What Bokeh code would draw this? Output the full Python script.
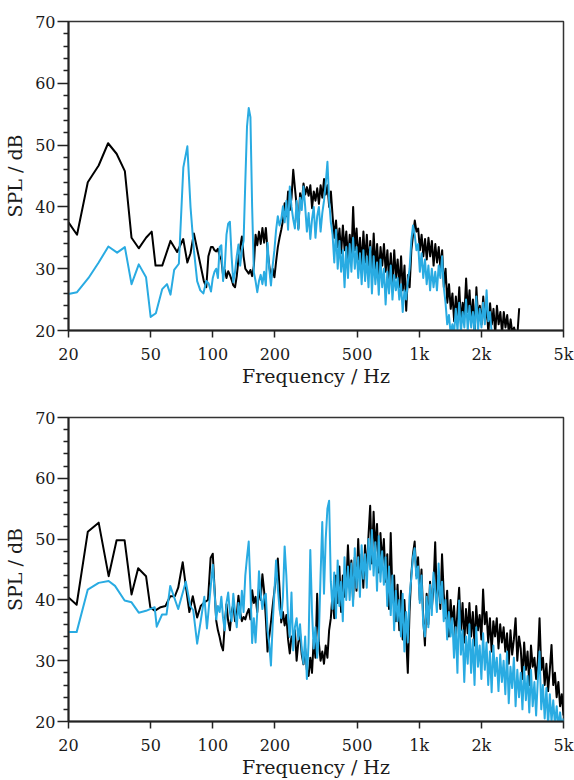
import numpy as np
from bokeh.plotting import figure
from bokeh.layouts import column
from bokeh.models import FixedTicker
from bokeh.embed import file_html
from bokeh.resources import INLINE

# ---------------- axes ----------------
freq_ticks = [20, 50, 100, 200, 500, 1000, 2000, 5000]
freq_tick_labels = ["20", "50", "100", "200", "500", "1k", "2k", "5k"]
spl_ticks = [20, 30, 40, 50, 60, 70]
spl_minor_ticks = [22, 24, 26, 28, 32, 34, 36, 38, 42, 44, 46, 48, 52, 54, 56, 58, 62, 64, 66, 68]

# ---------------- upper panel ----------------
a_black_low_f = [20, 22, 24.8, 28, 31.1, 34.2, 37.5, 40.4, 43.8, 47.5, 50.6, 52.8, 56.9,
                 62.4, 67.2, 71.9, 75.3, 78, 81, 90.5, 93, 95.2, 98]
a_black_low_db = [37.5, 35.5, 44.0, 46.7, 50.3, 48.6, 45.8, 35.0, 33.3, 35.0, 36.0, 30.5, 30.5,
                  34.5, 32.7, 34.8, 31.0, 32.5, 35.7, 28.0, 27.0, 32.0, 33.5]
a_blue_low_f = [20, 22, 25, 28, 31.2, 34.4, 37.5, 40.4, 43.8, 47.5, 50, 53, 56.9, 60, 62.4,
                65, 68.5, 72, 75.3, 78, 81, 84, 87, 90, 93, 95.5, 98]
a_blue_low_db = [25.9, 26.2, 28.5, 31.0, 33.6, 32.6, 33.5, 27.5, 30.7, 28.6, 22.2, 22.8, 26.7,
                 27.5, 25.8, 29.8, 30.8, 46.4, 49.8, 40.0, 33.0, 28.0, 26.5, 26.0, 28.0, 27.6, 26.3]
a_black_hi_range = (100, 3050)
a_black_hi_db = [
    33.5, 33.0, 32.8, 33.2, 32.0, 31.5, 29.0, 29.8, 28.5, 29.6,
    29.0, 28.2, 27.3, 27.0, 28.8, 31.5, 33.5, 35.2, 32.0, 30.0,
    29.6, 29.2, 29.8, 28.8, 30.5, 35.5, 33.8, 36.0, 34.0, 36.6,
    34.2, 36.6, 33.0, 30.5, 28.4, 30.0, 28.6, 31.2, 33.5, 35.0,
    36.3, 37.8, 40.6, 38.5, 42.5, 39.5, 41.5, 46.0, 43.0, 40.2,
    36.5, 42.2, 40.5, 43.8, 42.0, 43.2, 41.8, 43.5, 39.8, 42.5,
    41.0, 43.0, 40.5, 43.5, 41.5, 44.5, 42.0, 43.5, 40.0, 42.5,
    38.5, 35.0, 37.8, 33.5, 36.5, 32.5, 37.0, 33.0, 36.0, 31.5,
    35.5, 32.0, 40.0, 33.0, 36.5, 31.5, 35.0, 30.5, 36.0, 31.0,
    35.5, 30.5, 34.5, 29.5, 35.7, 30.0, 34.0, 29.0, 33.5, 30.5,
    34.0, 29.5, 33.0, 28.0, 32.5, 27.5, 33.0, 28.5, 31.5, 27.0,
    32.0, 26.5, 30.5, 23.2, 29.0, 27.0, 33.0, 35.5, 37.8, 36.0,
    36.5, 33.0, 35.5, 32.0, 34.8, 31.5, 35.0, 32.0, 34.5, 30.5,
    34.0, 31.0, 33.5, 30.0, 33.0, 27.0, 30.0, 24.5, 27.5, 23.5,
    26.0, 21.5, 25.5, 22.0, 27.0, 21.0, 24.5, 22.5, 28.4, 23.0,
    26.5, 21.5, 25.0, 19.5, 27.0, 22.0, 24.0, 21.0, 25.5, 21.5,
    24.0, 19.5, 24.4, 21.0, 23.5, 19.5, 24.0, 21.0, 23.0, 19.5,
    23.0, 20.5, 22.5, 19.5, 21.8, 19.5, 20.5, 19.5, 19.5, 23.6,
]
a_blue_hi_range = (100, 2245)
a_blue_hi_db = [
    28.5, 29.5, 30.0, 28.5, 33.5, 33.8, 28.0, 30.2, 35.5, 37.3,
    37.6, 32.0, 27.8, 29.5, 32.0, 33.9, 30.5, 33.0, 34.5, 44.0,
    53.0, 56.0, 54.5, 40.0, 29.4, 28.0, 26.2, 28.0, 29.0, 27.5,
    29.5, 27.3, 34.2, 30.0, 27.3, 30.5, 33.0, 36.3, 38.5, 37.0,
    38.0, 40.1, 37.5, 41.0, 36.3, 43.3, 40.0, 38.0, 36.5, 41.0,
    36.3, 41.5, 39.5, 43.3, 40.0, 36.0, 39.0, 34.8, 38.0, 40.0,
    35.0, 38.5, 40.0, 36.0, 39.0, 41.0, 43.8, 47.3, 41.0, 37.5,
    35.5, 31.0, 36.3, 30.0, 34.5, 29.5, 33.0, 27.0, 33.5, 28.5,
    34.0, 29.5, 35.0, 30.0, 33.5, 28.5, 32.5, 27.5, 33.0, 28.0,
    32.0, 27.0, 33.5, 26.0, 32.0, 27.5, 31.0, 25.8, 31.5, 27.0,
    30.0, 24.2, 29.5, 26.0, 30.5, 25.0, 29.0, 26.5, 28.5, 25.0,
    27.5, 23.0, 26.5, 25.0, 28.0, 30.0, 34.5, 37.0, 35.5, 33.0,
    34.0, 29.5, 32.5, 28.5, 31.5, 27.5, 30.5, 26.5, 30.0, 27.0,
    29.5, 26.5, 30.5, 28.5, 32.0, 27.0, 24.5, 21.0, 22.5, 19.5,
    21.0, 19.5, 23.5, 20.0, 24.5, 19.8, 23.0, 20.5, 25.0, 20.0,
    24.0, 20.5, 23.0, 19.8, 25.5, 20.0, 23.5, 20.5, 24.5, 21.0,
    26.5, 21.5, 23.0, 19.5,
]

# ---------------- lower panel ----------------
b_black_low_f = [20, 21.9, 24.8, 28, 31.3, 34.2, 37.4, 40.4, 43.5, 47.5, 49.8, 52.3, 55.9,
                 59, 62.2, 65.5, 68, 71.5, 74, 77, 80, 84, 87.4, 91, 94.8, 97.6]
b_black_low_db = [40.4, 39.2, 51.2, 52.7, 43.9, 49.8, 49.8, 40.9, 45.2, 43.9, 38.8, 38.2, 38.8,
                  39.0, 40.6, 40.6, 42.0, 46.2, 42.3, 38.0, 40.6, 37.1, 39.0, 39.6, 40.0, 46.9]
b_blue_low_f = [20, 21.9, 24.8, 28, 31.3, 33.6, 37.4, 40.4, 43.8, 47.5, 52.3, 53.5, 56.8,
                59.7, 62.2, 68, 74, 77.8, 80.4, 84, 87.4, 91, 93.7, 97]
b_blue_low_db = [34.7, 34.7, 41.7, 42.8, 43.1, 42.3, 39.9, 39.6, 37.9, 38.2, 38.8, 35.6, 37.6,
                 37.6, 42.3, 38.5, 43.0, 39.0, 38.3, 32.8, 36.5, 40.5, 35.3, 41.0]
b_black_hi_range = (100, 5000)
b_black_hi_db = [
    47.6, 42.0, 36.6, 35.0, 33.9, 32.5, 31.7, 36.0, 39.3, 36.5,
    35.0, 38.0, 39.3, 36.5, 37.5, 40.7, 38.0, 36.5, 37.2, 36.8,
    37.8, 38.5, 36.8, 41.6, 39.5, 40.5, 38.0, 42.0, 40.0, 44.2,
    41.5, 37.0, 31.5, 34.0, 36.3, 39.0, 41.4, 44.0, 46.8, 42.0,
    36.3, 38.0, 35.8, 37.5, 33.5, 31.2, 34.0, 33.5, 35.0, 30.0,
    33.0, 34.5, 31.0, 29.4, 32.0, 28.5, 27.5, 30.5, 28.0, 33.5,
    30.5, 41.0, 33.0, 30.0, 31.5, 29.5, 32.5, 30.5, 35.0, 37.0,
    41.0, 37.0, 44.0, 39.5, 45.5, 38.0, 44.0, 40.5, 42.0, 49.0,
    43.0, 46.5, 40.0, 47.0, 41.5, 50.0, 43.0, 47.5, 42.0, 49.0,
    44.0, 50.5, 55.5, 46.0, 54.5, 48.0, 52.5, 44.5, 51.0, 46.0,
    50.0, 43.0, 47.5, 38.5, 51.0, 41.0, 44.0, 36.5, 42.5, 35.0,
    41.5, 33.5, 40.0, 34.0, 28.0, 38.0, 44.0, 47.5, 49.6, 44.0,
    47.0, 40.0, 45.0, 37.0, 32.5, 41.0, 36.0, 43.0, 38.5, 42.0,
    49.5, 40.0, 44.0, 38.5, 47.5, 41.0, 37.0, 41.5, 34.0, 40.0,
    36.0, 39.0, 33.5, 38.0, 42.0, 35.0, 39.5, 33.0, 38.5, 34.5,
    39.5, 34.0, 38.0, 32.5, 39.0, 35.0, 37.5, 33.5, 41.7, 36.0,
    38.0, 33.0, 37.0, 31.5, 36.5, 34.0, 37.0, 32.0, 36.0, 33.0,
    35.5, 31.5, 34.5, 29.5, 35.0, 31.0, 33.5, 37.0, 30.0, 34.0,
    32.0, 27.0, 33.0, 28.5, 31.5, 26.0, 32.5, 29.0, 30.5, 27.0,
    30.0, 37.0, 28.5, 30.5, 26.0, 29.5, 25.0, 28.5, 32.6, 26.0,
    28.0, 24.0, 26.5, 22.5, 24.5, 21.0,
]
b_blue_hi_range = (100, 5000)
b_blue_hi_db = [
    45.8, 41.5, 36.8, 39.0, 38.0, 40.5, 37.0, 35.0, 39.5, 41.2,
    38.0, 36.5, 41.0, 38.0, 35.5, 39.5, 37.0, 41.5, 38.0, 44.0,
    47.0, 49.6, 42.0, 32.9, 37.0, 33.0, 38.0, 44.7, 41.0, 38.5,
    40.5, 41.0, 35.0, 32.8, 29.2, 36.0, 41.2, 46.5, 42.0, 38.5,
    37.0, 40.5, 48.8, 44.0, 37.1, 33.9, 41.2, 31.7, 35.5, 37.0,
    33.5, 36.0, 32.0, 29.5, 34.0, 27.0, 33.0, 48.2, 38.0, 32.0,
    35.5, 30.5, 34.0, 44.0, 52.8, 41.0, 50.0, 55.0, 56.3, 43.0,
    38.5, 44.5, 37.0, 46.5, 39.0, 43.0, 36.5, 47.0, 40.0, 45.5,
    40.0, 46.0, 39.0, 48.5, 42.0, 47.0, 40.5, 49.0, 43.5, 47.5,
    42.0, 50.0, 45.0, 51.5, 44.0, 49.5, 41.5, 50.5, 43.0, 48.0,
    42.5, 47.0, 39.0, 45.5, 37.5, 44.0, 35.0, 41.5, 36.5, 40.0,
    34.0, 41.0, 31.5, 38.0, 33.0, 40.5, 43.5, 47.0, 48.5, 43.5,
    45.5, 39.5, 44.0, 36.0, 34.0, 40.5, 35.5, 42.5, 37.5, 44.5,
    41.5, 38.0, 46.0, 39.5, 43.0, 36.5, 40.0, 33.5, 38.0, 34.0,
    37.0, 30.5, 35.5, 28.0, 39.9, 31.0, 35.0, 26.5, 34.0, 29.5,
    36.0, 28.0, 33.5, 26.0, 35.5, 29.0, 32.5, 27.0, 34.5, 28.5,
    33.0, 26.0, 31.5, 24.8, 32.5, 27.5, 30.5, 25.0, 31.0, 26.5,
    30.0, 24.5, 31.5, 23.0, 29.0, 25.5, 30.5, 22.5, 28.5, 24.0,
    28.0, 22.0, 29.0, 23.5, 27.5, 21.5, 28.5, 22.5, 26.5, 21.0,
    27.0, 31.5, 22.0, 26.0, 20.5, 25.5, 19.5, 24.5, 20.0, 23.5,
    19.5, 22.5, 19.0, 21.5, 19.0, 20.5,
]

BLACK = "#000000"
BLUE = "#29abe2"
TEXT = "#1a1a1a"
FONT = "DejaVu Serif"


def spectrum(low_f, low_db, hi_range, hi_db):
    f = list(low_f) + list(np.geomspace(hi_range[0], hi_range[1], len(hi_db)))
    return f, list(low_db) + list(hi_db)


def make_panel(curves, border_top, border_bottom):
    p = figure(width=574, height=390, x_axis_type="log", x_range=(20, 5000), y_range=(20, 70),
               output_backend="svg", toolbar_location=None,
               min_border_left=68, min_border_right=11,
               min_border_top=border_top, min_border_bottom=border_bottom,
               background_fill_color="white", border_fill_color="white")
    p.grid.visible = False
    p.outline_line_color = "#333333"
    p.outline_line_width = 1.5
    for (f, db, color, w) in curves:
        p.line(f, db, line_color=color, line_width=w, line_join="round")

    xa = p.xaxis[0]
    xa.ticker = FixedTicker(ticks=freq_ticks, minor_ticks=[])
    xa.major_label_overrides = {t: l for t, l in zip(freq_ticks, freq_tick_labels)}
    xa.axis_label = "Frequency / Hz"
    xa.major_tick_out = 7
    xa.major_label_standoff = 7
    xa.axis_label_standoff = -2

    ya = p.yaxis[0]
    ya.ticker = FixedTicker(ticks=spl_ticks, minor_ticks=spl_minor_ticks)
    ya.axis_label = "SPL / dB"
    ya.major_tick_out = 11
    ya.minor_tick_out = 5
    ya.major_label_standoff = 2
    ya.axis_label_standoff = 6

    for ax in (xa, ya):
        ax.major_tick_in = 0
        ax.minor_tick_in = 0
        ax.axis_line_color = "#222222"
        ax.axis_line_width = 2
        ax.major_tick_line_color = "#222222"
        ax.minor_tick_line_color = "#222222"
        ax.major_tick_line_width = 1.5
        ax.minor_tick_line_width = 1.5
        ax.major_label_text_font = FONT
        ax.major_label_text_font_size = "16px"
        ax.major_label_text_color = TEXT
        ax.axis_label_text_font = FONT
        ax.axis_label_text_font_size = "19px"
        ax.axis_label_text_font_style = "normal"
        ax.axis_label_text_color = TEXT
    return p


fa_k, da_k = spectrum(a_black_low_f, a_black_low_db, a_black_hi_range, a_black_hi_db)
fa_b, da_b = spectrum(a_blue_low_f, a_blue_low_db, a_blue_hi_range, a_blue_hi_db)
fb_k, db_k = spectrum(b_black_low_f, b_black_low_db, b_black_hi_range, b_black_hi_db)
fb_b, db_b = spectrum(b_blue_low_f, b_blue_low_db, b_blue_hi_range, b_blue_hi_db)

p1 = make_panel([(fa_k, da_k, BLACK, 2.0), (fa_b, da_b, BLUE, 2.0)], 21, 60)
p2 = make_panel([(fb_k, db_k, BLACK, 2.0), (fb_b, db_b, BLUE, 2.0)], 27, 54)

layout = column(p1, p2, spacing=0)
open("out.html", "w").write(file_html(layout, INLINE))
